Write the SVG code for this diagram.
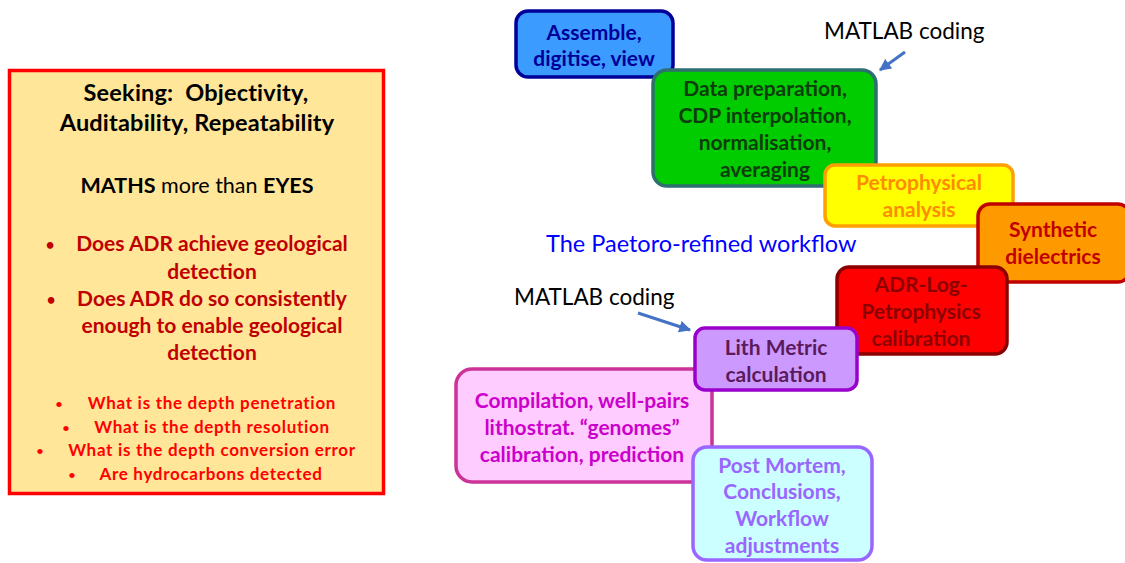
<svg xmlns="http://www.w3.org/2000/svg" width="1125" height="563" viewBox="0 0 1125 563">
  <defs>
    <style>
      text { font-family: Lato, "Open Sans", "Liberation Sans", sans-serif; }
      .b { font-weight: 700; }
      .box { stroke-width: 3.5; }
      .hd { font-size: 23.5px; fill: #000; text-anchor: middle; letter-spacing: 0.2px; }
      .hd2 { font-size: 21.5px; fill: #000; text-anchor: middle; }
      .q1 { font-size: 21px; fill: #C00000; font-weight: 700; }
      .q2 { font-size: 17px; fill: #FF0000; font-weight: 700; letter-spacing: 0.7px; }
      .dot1 { font-size: 15px; }
      .dot2 { font-size: 12px; letter-spacing: 0; }
      .lbl { font-size: 21px; font-weight: 700; text-anchor: middle; }
      .note { font-size: 22.5px; fill: #000; }
    </style>
    <marker id="arr" viewBox="0 0 10 10" refX="9" refY="5" markerWidth="4" markerHeight="4" orient="auto">
      <path d="M0,0 L10,5 L0,10 z" fill="#4472C4"/>
    </marker>
  </defs>
  <rect width="1125" height="563" fill="#fff"/>

  <!-- Objectives panel -->
  <g id="objectives">
    <rect x="9.5" y="70.5" width="374" height="423" fill="#FFE699" stroke="#FF0000" stroke-width="3.5"/>
    <text class="hd b" x="196" y="101" xml:space="preserve">Seeking:  Objectivity,</text>
    <text class="hd b" x="197" y="131">Auditability, Repeatability</text>
    <text class="hd2" x="197" y="193"><tspan class="b">MATHS</tspan> more than <tspan class="b">EYES</tspan></text>
    <g class="q1" text-anchor="middle">
      <text class="dot1" x="50" y="250">•</text>
      <text x="212" y="251">Does ADR achieve geological</text>
      <text x="212" y="279">detection</text>
      <text class="dot1" x="51" y="305">•</text>
      <text x="212" y="306">Does ADR do so consistently</text>
      <text x="212" y="333">enough to enable geological</text>
      <text x="212" y="360">detection</text>
    </g>
    <g class="q2" text-anchor="middle">
      <text class="dot2" x="59" y="408">•</text>
      <text x="212" y="409">What is the depth penetration</text>
      <text class="dot2" x="66" y="432">•</text>
      <text x="212" y="433">What is the depth resolution</text>
      <text class="dot2" x="40" y="455">•</text>
      <text x="212" y="456">What is the depth conversion error</text>
      <text class="dot2" x="72" y="479">•</text>
      <text x="211" y="480">Are hydrocarbons detected</text>
    </g>
  </g>

  <!-- Workflow steps -->
  <g id="assemble">
    <rect class="box" x="516" y="11" width="157" height="66" rx="12" fill="#3C9BFF" stroke="#000099"/>
    <text class="lbl" x="594" y="40" fill="#000099">Assemble,</text>
    <text class="lbl" x="594" y="66" fill="#000099">digitise, view</text>
  </g>
  <g id="data-prep">
    <rect class="box" x="653" y="70" width="223" height="116" rx="14" fill="#00CC00" stroke="#2E6F6F"/>
    <text class="lbl" x="765" y="96" fill="#0D3D0D">Data preparation,</text>
    <text class="lbl" x="765" y="123" fill="#0D3D0D">CDP interpolation,</text>
    <text class="lbl" x="765" y="150" fill="#0D3D0D">normalisation,</text>
    <text class="lbl" x="765" y="177" fill="#0D3D0D">averaging</text>
  </g>
  <g id="petrophysical">
    <rect class="box" x="825" y="165" width="188" height="61" rx="10" fill="#FFFF00" stroke="#FFA000"/>
    <text class="lbl" x="919" y="190" fill="#FF8C00">Petrophysical</text>
    <text class="lbl" x="919" y="217" fill="#FF8C00">analysis</text>
  </g>
  <g id="synthetic">
    <rect class="box" x="978" y="204" width="152" height="78" rx="12" fill="#FF9900" stroke="#C00000"/>
    <text class="lbl" x="1053" y="237" fill="#C00000">Synthetic</text>
    <text class="lbl" x="1053" y="264" fill="#C00000">dielectrics</text>
  </g>
  <g id="adr-calibration">
    <rect class="box" x="837" y="267" width="170" height="87" rx="12" fill="#FF0000" stroke="#8B0000"/>
    <text class="lbl" x="921" y="292" fill="#8B0000">ADR-Log-</text>
    <text class="lbl" x="921" y="319" fill="#8B0000">Petrophysics</text>
    <text class="lbl" x="921" y="346" fill="#8B0000">calibration</text>
  </g>
  <g id="compilation">
    <rect class="box" x="456" y="369" width="256" height="113" rx="16" fill="#FFCCFF" stroke="#CC3399"/>
    <text class="lbl" x="582" y="408" fill="#CC00CC" font-size="20.5">Compilation, well-pairs</text>
    <text class="lbl" x="582" y="435" fill="#CC00CC" font-size="20.5">lithostrat. “genomes”</text>
    <text class="lbl" x="582" y="462" fill="#CC00CC" font-size="20.5">calibration, prediction</text>
  </g>
  <g id="lith-metric">
    <rect class="box" x="695" y="328" width="162" height="62" rx="10" fill="#CC99FF" stroke="#9900CC"/>
    <text class="lbl" x="776" y="355" fill="#5B1A5B">Lith Metric</text>
    <text class="lbl" x="776" y="382" fill="#5B1A5B">calculation</text>
  </g>
  <g id="post-mortem">
    <rect class="box" x="693" y="447" width="179" height="113" rx="14" fill="#CCFFFF" stroke="#9966FF"/>
    <text class="lbl" x="782" y="473" fill="#9966FF">Post Mortem,</text>
    <text class="lbl" x="782" y="499" fill="#9966FF">Conclusions,</text>
    <text class="lbl" x="782" y="526" fill="#9966FF">Workflow</text>
    <text class="lbl" x="782" y="553" fill="#9966FF">adjustments</text>
  </g>

  <!-- Annotations -->
  <g id="labels">
    <text class="note" x="824" y="39">MATLAB coding</text>
    <text class="note" x="514" y="305">MATLAB coding</text>
    <text x="546" y="252" font-size="23.5" fill="#0000FF">The Paetoro-refined workflow</text>
  </g>

  <g id="connectors" stroke="#4472C4" stroke-width="3" fill="none">
    <line x1="905" y1="52" x2="880" y2="70" marker-end="url(#arr)"/>
    <line x1="638" y1="313" x2="690" y2="330" marker-end="url(#arr)"/>
  </g>
</svg>
